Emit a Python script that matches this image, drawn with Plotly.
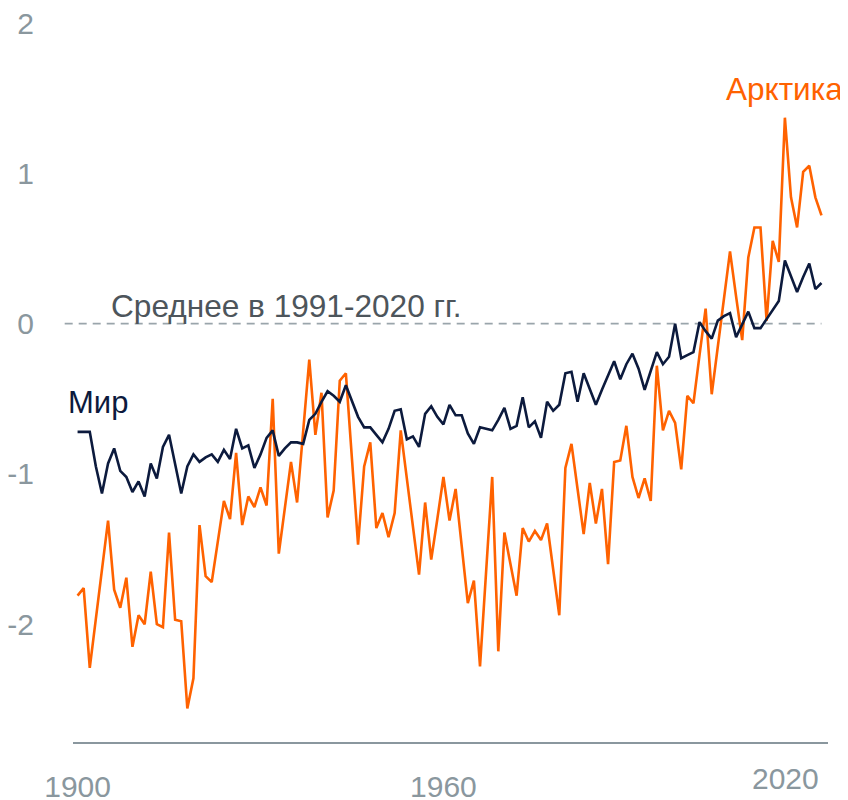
import plotly.graph_objects as go

years = list(range(1900, 2023))

world = [
    -0.72, -0.72, -0.72, -0.95, -1.13, -0.93, -0.83, -0.98, -1.02, -1.12,
    -1.05, -1.15, -0.93, -1.03, -0.82, -0.74, -0.93, -1.13, -0.95, -0.87,
    -0.92, -0.89, -0.87, -0.92, -0.84, -0.90, -0.70, -0.83, -0.81, -0.96,
    -0.87, -0.76, -0.71, -0.88, -0.83, -0.79, -0.79, -0.80, -0.64, -0.60,
    -0.52, -0.45, -0.48, -0.52, -0.41, -0.52, -0.62, -0.69, -0.69, -0.74,
    -0.79, -0.70, -0.58, -0.57, -0.77, -0.75, -0.82, -0.60, -0.55, -0.62,
    -0.67, -0.54, -0.61, -0.61, -0.73, -0.80, -0.69, -0.70, -0.71, -0.64,
    -0.56, -0.70, -0.68, -0.49, -0.69, -0.65, -0.76, -0.52, -0.58, -0.54,
    -0.33, -0.32, -0.52, -0.33, -0.43, -0.54, -0.44, -0.35, -0.25, -0.37,
    -0.27, -0.20, -0.30, -0.44, -0.31, -0.19, -0.27, -0.22, 0.00, -0.23,
    -0.21, -0.19, 0.01, -0.05, -0.10, 0.02, 0.05, 0.07, -0.09, 0.00,
    0.08, -0.03, -0.03, 0.03, 0.09, 0.15, 0.42, 0.32, 0.21, 0.31,
    0.40, 0.23, 0.27,
]

arctic = [
    -1.81, -1.76, -2.29, -1.96, -1.64, -1.31, -1.77, -1.89, -1.69, -2.15,
    -1.94, -2.00, -1.65, -2.00, -2.02, -1.39, -1.97, -1.98, -2.56, -2.36,
    -1.34, -1.68, -1.72, -1.45, -1.18, -1.30, -0.86, -1.34, -1.15, -1.22,
    -1.09, -1.21, -0.50, -1.53, -1.22, -0.92, -1.19, -0.71, -0.24, -0.74,
    -0.46, -1.29, -1.11, -0.38, -0.33, -0.90, -1.47, -0.95, -0.79, -1.36,
    -1.26, -1.42, -1.26, -0.71, -1.03, -1.35, -1.67, -1.19, -1.57, -1.30,
    -1.02, -1.31, -1.10, -1.48, -1.86, -1.71, -2.28, -1.65, -1.02, -2.18,
    -1.39, -1.60, -1.81, -1.36, -1.45, -1.38, -1.44, -1.33, -1.63, -1.94,
    -0.96, -0.80, -1.10, -1.40, -1.06, -1.33, -1.10, -1.60, -0.92, -0.91,
    -0.68, -1.02, -1.16, -1.03, -1.18, -0.28, -0.71, -0.58, -0.66, -0.97,
    -0.48, -0.53, -0.21, 0.10, -0.47, -0.16, 0.16, 0.48, 0.18, -0.11,
    0.44, 0.64, 0.64, 0.02, 0.55, 0.41, 1.37, 0.84, 0.64, 1.01,
    1.05, 0.84, 0.72,
]

x_ticks = [1900, 1960]
x_last_label = "2020"
y_ticks = [-2, -1, 0, 1, 2]
y_tick_text = ["-2", "-1", "0", "1", "2"]

ORANGE = "#ff6200"
NAVY = "#0c1a3d"
GRAY = "#8a979e"
FONT = "Liberation Sans, Arial, sans-serif"

x_range = [1899.25, 2023.07]
y_range = [-2.79, 2.02]

fig = go.Figure()
fig.add_trace(go.Scatter(x=years, y=arctic, mode="lines",
                         line=dict(color=ORANGE, width=2.6), name="Арктика",
                         hoverinfo="x+y"))
fig.add_trace(go.Scatter(x=years, y=world, mode="lines",
                         line=dict(color=NAVY, width=2.6), name="Мир",
                         hoverinfo="x+y"))

x1_paper = (years[-1] - x_range[0]) / (x_range[1] - x_range[0])
fig.add_shape(type="line", xref="paper", yref="y", x0=-0.011, x1=x1_paper,
              y0=0, y1=0, line=dict(color="#9aa5ab", width=1.6, dash="8px,6px"),
              layer="below")
fig.add_shape(type="line", xref="paper", yref="paper", x0=0, x1=1, y0=0, y1=0,
              line=dict(color=GRAY, width=2))

fig.add_annotation(x=years[0], y=world[0], xref="x", yref="y", text="Мир",
                   showarrow=False, xanchor="left", yanchor="middle",
                   xshift=-12, yshift=29,
                   font=dict(family=FONT, size=31, color=NAVY))
fig.add_annotation(x=years[-1], y=1.56, xref="x", yref="y", text="Арктика",
                   showarrow=False, xanchor="right", yanchor="middle",
                   xshift=24, font=dict(family=FONT, size=31.5, color=ORANGE))
fig.add_annotation(x=1905.2, y=0.12, xref="x", yref="y",
                   text="Среднее в 1991-2020 гг.",
                   showarrow=False, xanchor="left", yanchor="middle",
                   font=dict(family=FONT, size=31.6, color="#4d555b"))
# last x-axis label, right-aligned to the end of the series
fig.add_annotation(x=years[-1], y=0, xref="x", yref="paper", text=x_last_label,
                   showarrow=False, xanchor="right", yanchor="top", yshift=-17,
                   font=dict(family=FONT, size=30, color=GRAY))

fig.update_layout(
    width=840, height=792,
    margin=dict(l=64.7, r=20, t=12, b=57, pad=0),
    paper_bgcolor="white", plot_bgcolor="white",
    showlegend=False,
    font=dict(family=FONT, size=30, color=GRAY),
    xaxis=dict(range=x_range, tickvals=x_ticks, ticktext=[str(v) for v in x_ticks],
               showgrid=False, zeroline=False, showline=False,
               ticks="outside", ticklen=17, tickcolor="rgba(0,0,0,0)",
               ticklabeloverflow="allow",
               tickfont=dict(family=FONT, size=30, color=GRAY), automargin=False),
    yaxis=dict(range=y_range, tickvals=y_ticks, ticktext=y_tick_text,
               showgrid=False, zeroline=False, showline=False,
               ticks="outside", ticklen=32, tickcolor="rgba(0,0,0,0)",
               ticklabeloverflow="allow",
               tickfont=dict(family=FONT, size=30, color=GRAY), automargin=False),
)

fig.write_html("out.html")
